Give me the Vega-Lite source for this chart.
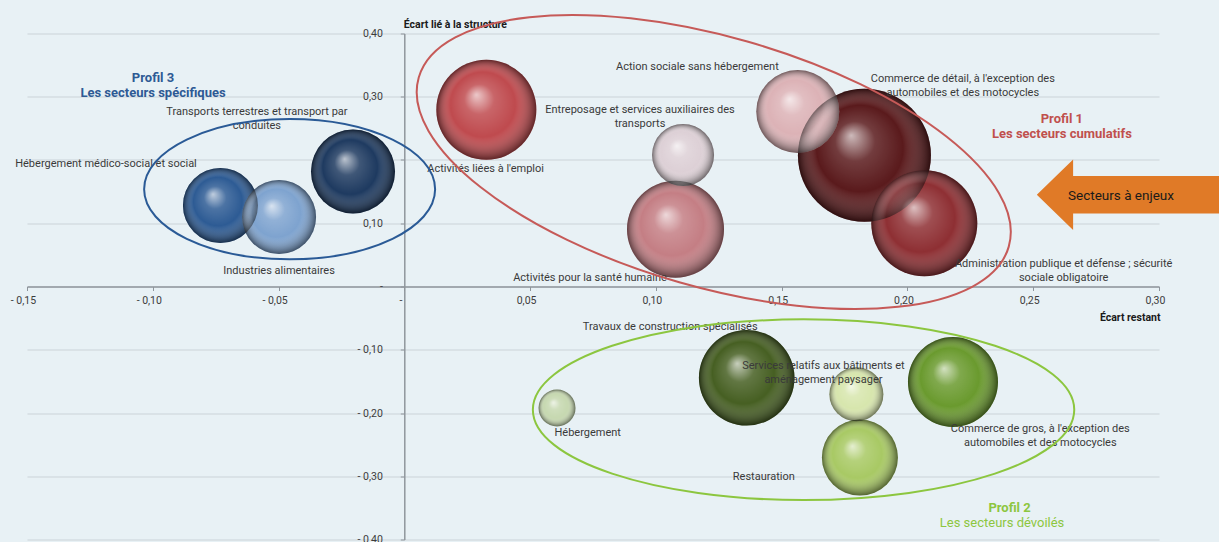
{
  "$schema": "https://vega.github.io/schema/vega-lite/v6.json",
  "width": 1132,
  "height": 506,
  "autosize": "none",
  "padding": {"left": 27, "top": 33.5, "right": 60, "bottom": 2.5},
  "background": "#e8f1f5",
  "config": {"view": {"stroke": null}, "font": "'Liberation Sans Narrow', Roboto, sans-serif"},
  "datasets": {
    "bulles": [
      {"secteur": "Hébergement médico-social et social", "x": -0.0731, "y": 0.1281, "poids": 14.06},
      {"secteur": "Industries alimentaires", "x": -0.0498, "y": 0.1099, "poids": 13.69},
      {"secteur": "Transports terrestres et transport par conduites", "x": -0.0204, "y": 0.1818, "poids": 17.64},
      {"secteur": "Activités liées à l'emploi", "x": 0.0326, "y": 0.2795, "poids": 25.0},
      {"secteur": "Activités pour la santé humaine", "x": 0.1078, "y": 0.0906, "poids": 23.52},
      {"secteur": "Entreposage et services auxiliaires des transports", "x": 0.1108, "y": 0.2079, "poids": 9.61},
      {"secteur": "Commerce de détail, à l'exception des automobiles et des motocycles", "x": 0.1829, "y": 0.2074, "poids": 44.22},
      {"secteur": "Action sociale sans hébergement", "x": 0.1564, "y": 0.2767, "poids": 17.22},
      {"secteur": "Administration publique et défense ; sécurité sociale obligatoire", "x": 0.2067, "y": 0.0999, "poids": 28.09},
      {"secteur": "Hébergement", "x": 0.0607, "y": -0.1921, "poids": 3.42},
      {"secteur": "Travaux de construction spécialisés", "x": 0.1361, "y": -0.1443, "poids": 22.85},
      {"secteur": "Services relatifs aux bâtiments et aménagement paysager", "x": 0.1797, "y": -0.1703, "poids": 7.29},
      {"secteur": "Restauration", "x": 0.1811, "y": -0.2704, "poids": 14.44},
      {"secteur": "Commerce de gros, à l'exception des automobiles et des motocycles", "x": 0.2181, "y": -0.151, "poids": 20.25}
    ],
    "etiquettes": [
      {"texte": "Hébergement médico-social et social", "x": -0.1186, "y": 0.1937},
      {"texte": "Transports terrestres et transport par\nconduites", "x": -0.0586, "y": 0.2759},
      {"texte": "Industries alimentaires", "x": -0.0498, "y": 0.0245},
      {"texte": "Activités liées à l'emploi", "x": 0.0323, "y": 0.1853},
      {"texte": "Entreposage et services auxiliaires des\ntransports", "x": 0.0937, "y": 0.2791},
      {"texte": "Action sociale sans hébergement", "x": 0.1165, "y": 0.347},
      {"texte": "Commerce de détail, à l'exception des\nautomobiles et des motocycles", "x": 0.222, "y": 0.3276},
      {"texte": "Administration publique et défense ; sécurité\nsociale obligatoire", "x": 0.2621, "y": 0.0351},
      {"texte": "Activités pour la santé humaine", "x": 0.0738, "y": 0.013},
      {"texte": "Travaux de construction spécialisés", "x": 0.1057, "y": -0.0645},
      {"texte": "Services relatifs aux bâtiments et\naménagement paysager", "x": 0.1666, "y": -0.1257},
      {"texte": "Hébergement", "x": 0.0729, "y": -0.2321},
      {"texte": "Restauration", "x": 0.1429, "y": -0.3012},
      {"texte": "Commerce de gros, à l'exception des\nautomobiles et des motocycles", "x": 0.2528, "y": -0.2258}
    ],
    "profils": [
      {"profil": "Profil 1", "x": 0.123, "y": 0.1968},
      {"profil": "Profil 2", "x": 0.1587, "y": -0.1948},
      {"profil": "Profil 3", "x": -0.0456, "y": 0.1538}
    ],
    "titres": [
      {"groupe": "p3", "texte": "Profil 3\nLes secteurs spécifiques", "x": -0.0999, "y": 0.3301},
      {"groupe": "p1", "texte": "Profil 1\nLes secteurs cumulatifs", "x": 0.2614, "y": 0.2653},
      {"groupe": "p2a", "texte": "Profil 2", "x": 0.2406, "y": -0.3497},
      {"groupe": "p2b", "texte": "Les secteurs dévoilés", "x": 0.2376, "y": -0.3734},
      {"groupe": "enjeux", "texte": "Secteurs à enjeux", "x": 0.2849, "y": 0.1431}
    ],
    "fleche": [
      {"nom": "Secteurs à enjeux", "x": 0.2888, "y": 0.1451}
    ]
  },
  "encoding": {
    "x": {
      "field": "x", "type": "quantitative",
      "scale": {"domain": [-0.15, 0.3], "nice": false, "zero": false},
      "axis": {
        "title": "Écart restant", "orient": "bottom", "offset": -253,
        "values": [-0.15, -0.1, -0.05, 0, 0.05, 0.1, 0.15, 0.2, 0.25, 0.3],
        "labelExpr": "datum.value == 0 ? '-' : (datum.value < 0 ? '- ' : '') + replace(format(abs(datum.value), '.2f'), '.', ',')",
        "labelOffset": -4, "labelPadding": 5, "tickSize": 4, "tickColor": "#8f969c",
        "domainColor": "#8f969c", "domainWidth": 1.5, "labelFontSize": 10.5, "labelColor": "#3c3c3c",
        "labelFlush": false, "labelOverlap": false, "grid": false,
        "titleFontSize": 10.5, "titleFontWeight": "bold", "titleColor": "#1a1a1a",
        "titleX": 1133, "titleY": 31, "titleAlign": "right", "titleBaseline": "middle"
      }
    },
    "y": {
      "field": "y", "type": "quantitative",
      "scale": {"domain": [-0.4, 0.4], "nice": false, "zero": false},
      "axis": {
        "title": "Écart lié à la structure", "orient": "left", "offset": -377.3,
        "values": [-0.4, -0.3, -0.2, -0.1, 0, 0.1, 0.2, 0.3, 0.4],
        "labelExpr": "datum.value == 0 ? '-' : (datum.value < 0 ? '- ' : '') + replace(format(abs(datum.value), '.2f'), '.', ',')",
        "labelPadding": 18, "tickSize": 4, "tickColor": "#8f969c",
        "domainColor": "#8f969c", "domainWidth": 1.5, "labelFontSize": 10.5, "labelColor": "#3c3c3c",
        "labelFlush": false, "labelOverlap": false,
        "grid": true, "gridColor": "#cbd3d8", "gridWidth": 1,
        "titleFontSize": 10.5, "titleFontWeight": "bold", "titleColor": "#1a1a1a",
        "titleAngle": 0, "titleX": -1, "titleY": -9, "titleAlign": "left", "titleBaseline": "middle"
      }
    }
  },
  "layer": [
    {
      "data": {"name": "bulles"},
      "mark": {"type": "circle", "opacity": 1, "strokeWidth": 0},
      "encoding": {
        "size": {"field": "poids", "type": "quantitative", "scale": {"type": "linear", "domain": [0, 50], "range": [0, 20000]}, "legend": null},
        "color": {
          "field": "secteur", "type": "nominal", "legend": null,
          "scale": {
            "domain": [
              "Hébergement médico-social et social", "Industries alimentaires", "Transports terrestres et transport par conduites",
              "Activités liées à l'emploi", "Activités pour la santé humaine", "Entreposage et services auxiliaires des transports",
              "Commerce de détail, à l'exception des automobiles et des motocycles", "Action sociale sans hébergement",
              "Administration publique et défense ; sécurité sociale obligatoire", "Hébergement", "Travaux de construction spécialisés",
              "Services relatifs aux bâtiments et aménagement paysager", "Restauration", "Commerce de gros, à l'exception des automobiles et des motocycles"
            ],
            "range": ["#2d5b94", "#7ea3cf", "#1e3a60", "#bf4a4e", "#c47e84", "#ddd0d6", "#5a1a1c", "#dcb2b6", "#8e2f33", "#c6d8b0", "#465f22", "#d7e6ad", "#a8c964", "#6a9a2e"]
          }
        }
      }
    },
    {
      "data": {"name": "bulles"},
      "mark": {
        "type": "circle", "opacity": 1, "strokeWidth": 0,
        "fill": {
          "gradient": "radial", "x1": 0.4, "y1": 0.35, "r1": 0, "x2": 0.5, "y2": 0.5, "r2": 0.5,
          "stops": [
            {"offset": 0, "color": "rgba(255,255,255,0.7)"},
            {"offset": 0.3, "color": "rgba(255,255,255,0.15)"},
            {"offset": 0.65, "color": "rgba(255,255,255,0)"},
            {"offset": 1, "color": "rgba(0,0,0,0.5)"}
          ]
        }
      },
      "encoding": {
        "size": {"field": "poids", "type": "quantitative", "scale": {"type": "linear", "domain": [0, 50], "range": [0, 20000]}, "legend": null}
      }
    },
    {
      "data": {"name": "etiquettes"},
      "mark": {"type": "text", "fontSize": 11, "color": "#3a3a3a", "lineBreak": "\n", "lineHeight": 14, "baseline": "middle", "align": "center"},
      "encoding": {"text": {"field": "texte", "type": "nominal"}}
    },
    {
      "data": {"name": "fleche"},
      "mark": {"type": "point", "opacity": 1, "filled": true, "fill": "#e07a27", "strokeWidth": 0, "size": 35344,
        "shape": "M-1,0L-0.614,-0.376L-0.614,-0.199L1,-0.199L1,0.199L-0.614,0.199L-0.614,0.376Z"}
    },
    {
      "data": {"name": "profils"},
      "transform": [{"filter": "datum.profil == 'Profil 1'"}],
      "mark": {"type": "point", "opacity": 1, "filled": false, "stroke": "#c65a58", "strokeWidth": 2, "size": 376750, "angle": 16,
        "shape": "M-1,0C-1,-0.2251,-0.5523,-0.4076,0,-0.4076C0.5523,-0.4076,1,-0.2251,1,0C1,0.2251,0.5523,0.4076,0,0.4076C-0.5523,0.4076,-1,0.2251,-1,0Z"}
    },
    {
      "data": {"name": "profils"},
      "transform": [{"filter": "datum.profil == 'Profil 2'"}],
      "mark": {"type": "point", "opacity": 1, "filled": false, "stroke": "#8cc63f", "strokeWidth": 2, "size": 293114,
        "shape": "M-1,0C-1,-0.1844,-0.5523,-0.3338,0,-0.3338C0.5523,-0.3338,1,-0.1844,1,0C1,0.1844,0.5523,0.3338,0,0.3338C-0.5523,0.3338,-1,0.1844,-1,0Z"}
    },
    {
      "data": {"name": "profils"},
      "transform": [{"filter": "datum.profil == 'Profil 3'"}],
      "mark": {"type": "point", "opacity": 1, "filled": false, "stroke": "#2a5a96", "strokeWidth": 2, "size": 84681,
        "shape": "M-1,0C-1,-0.2661,-0.5523,-0.4818,0,-0.4818C0.5523,-0.4818,1,-0.2661,1,0C1,0.2661,0.5523,0.4818,0,0.4818C-0.5523,0.4818,-1,0.2661,-1,0Z"}
    },
    {
      "data": {"name": "titres"},
      "transform": [{"filter": "datum.groupe == 'p3'"}],
      "mark": {"type": "text", "fontSize": 13, "fontWeight": "bold", "color": "#2e5a94", "lineBreak": "\n", "lineHeight": 15, "baseline": "middle", "align": "center"},
      "encoding": {"text": {"field": "texte", "type": "nominal"}}
    },
    {
      "data": {"name": "titres"},
      "transform": [{"filter": "datum.groupe == 'p1'"}],
      "mark": {"type": "text", "fontSize": 13, "fontWeight": "bold", "color": "#c0504d", "lineBreak": "\n", "lineHeight": 15, "baseline": "middle", "align": "center"},
      "encoding": {"text": {"field": "texte", "type": "nominal"}}
    },
    {
      "data": {"name": "titres"},
      "transform": [{"filter": "datum.groupe == 'p2a'"}],
      "mark": {"type": "text", "fontSize": 13, "fontWeight": "bold", "color": "#8dc63f", "baseline": "middle", "align": "center"},
      "encoding": {"text": {"field": "texte", "type": "nominal"}}
    },
    {
      "data": {"name": "titres"},
      "transform": [{"filter": "datum.groupe == 'p2b'"}],
      "mark": {"type": "text", "fontSize": 13, "color": "#8dc63f", "baseline": "middle", "align": "center"},
      "encoding": {"text": {"field": "texte", "type": "nominal"}}
    },
    {
      "data": {"name": "titres"},
      "transform": [{"filter": "datum.groupe == 'enjeux'"}],
      "mark": {"type": "text", "fontSize": 13.5, "color": "#1a1a1a", "baseline": "middle", "align": "center"},
      "encoding": {"text": {"field": "texte", "type": "nominal"}}
    }
  ]
}
